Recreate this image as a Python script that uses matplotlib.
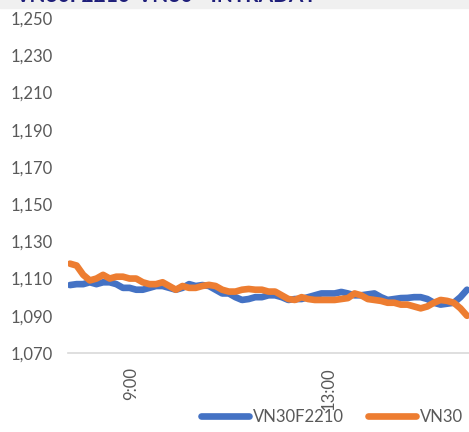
import matplotlib.pyplot as plt
from matplotlib.patches import Rectangle

# dữ liệu (giá trị ước lượng theo từng điểm)
vn30f = [1106.5, 1107, 1107, 1108, 1107, 1108, 1108, 1107, 1105, 1105,
         1104, 1104, 1105, 1106, 1106, 1105, 1104, 1105, 1107, 1106,
         1106.5, 1106, 1104, 1102, 1102, 1100, 1098.5, 1099, 1100, 1100,
         1101, 1101, 1100, 1098.5, 1099, 1099, 1100, 1101, 1102, 1102,
         1102, 1102.8, 1102, 1101, 1101, 1101.5, 1102, 1100, 1098.5, 1099,
         1099.5, 1099.6, 1100, 1100, 1099, 1097, 1096, 1096.5, 1097, 1100, 1104]
vn30 = [1118, 1117, 1112, 1109, 1110, 1112, 1110, 1111, 1111, 1110,
        1110, 1108, 1107, 1107, 1108, 1106, 1104, 1106, 1105, 1105,
        1106, 1106.6, 1106, 1104, 1103, 1103, 1104, 1104.4, 1104, 1104,
        1103, 1103, 1101, 1099, 1098.5, 1100, 1099, 1098.5, 1098.5, 1098.5,
        1098.5, 1099, 1099.5, 1102, 1101, 1099, 1098.5, 1098, 1097, 1097,
        1096, 1096, 1095, 1094, 1095, 1097, 1098.5, 1098, 1097, 1094, 1090]
time_idx = [9.2, 39.1]
time_lbl = ['9:00', '13:00']
y_ticks = list(range(1070, 1251, 20))

plt.rcParams['font.family'] = ['Lato', 'DejaVu Sans']

fig = plt.figure(figsize=(4.69, 4.32), dpi=100)
ax = fig.add_axes([68 / 469, 79 / 432, 401 / 469, 335 / 432])

x = list(range(len(vn30f)))
ax.plot(x, vn30f, color='#4472C4', lw=4.8, label='VN30F2210', solid_capstyle='round')
ax.plot(x, vn30, color='#ED7D31', lw=4.8, label='VN30', solid_capstyle='round')

ax.set_xlim(-0.3, 60.3)
ax.set_ylim(1070, 1250)
ax.set_yticks(y_ticks)
ax.set_yticklabels([f'{v:,}' for v in y_ticks])
ax.set_xticks(time_idx)
ax.set_xticklabels(time_lbl, rotation=90, va='top')
ax.tick_params(axis='both', length=0, labelsize=12, labelcolor='#595959')
ax.tick_params(axis='y', pad=11)
ax.tick_params(axis='x', pad=10)

for s in ['top', 'right', 'left']:
    ax.spines[s].set_visible(False)
ax.spines['bottom'].set_color('#d9d9d9')
ax.spines['bottom'].set_linewidth(1.2)

# dải tiêu đề phía trên (bị cắt trong ảnh gốc)
fig.patches.append(Rectangle((0, 1 - 8 / 432), 1, 8 / 432, transform=fig.transFigure,
                             color='#f0f0f0', zorder=0))
fig.text(15 / 469, 1 - 6 / 432, 'VN30F2210-VN30 - INTRADAY', color='#1f1f7a',
         fontsize=15, fontweight='bold', va='bottom', ha='left')

fig.legend(loc='center left', bbox_to_anchor=(186 / 469, 1 - 417 / 432), ncol=2,
           frameon=False, fontsize=12, handlelength=2.9, columnspacing=1.45,
           handletextpad=0.2, labelcolor='#595959')

fig.savefig('out.png', dpi=100)
